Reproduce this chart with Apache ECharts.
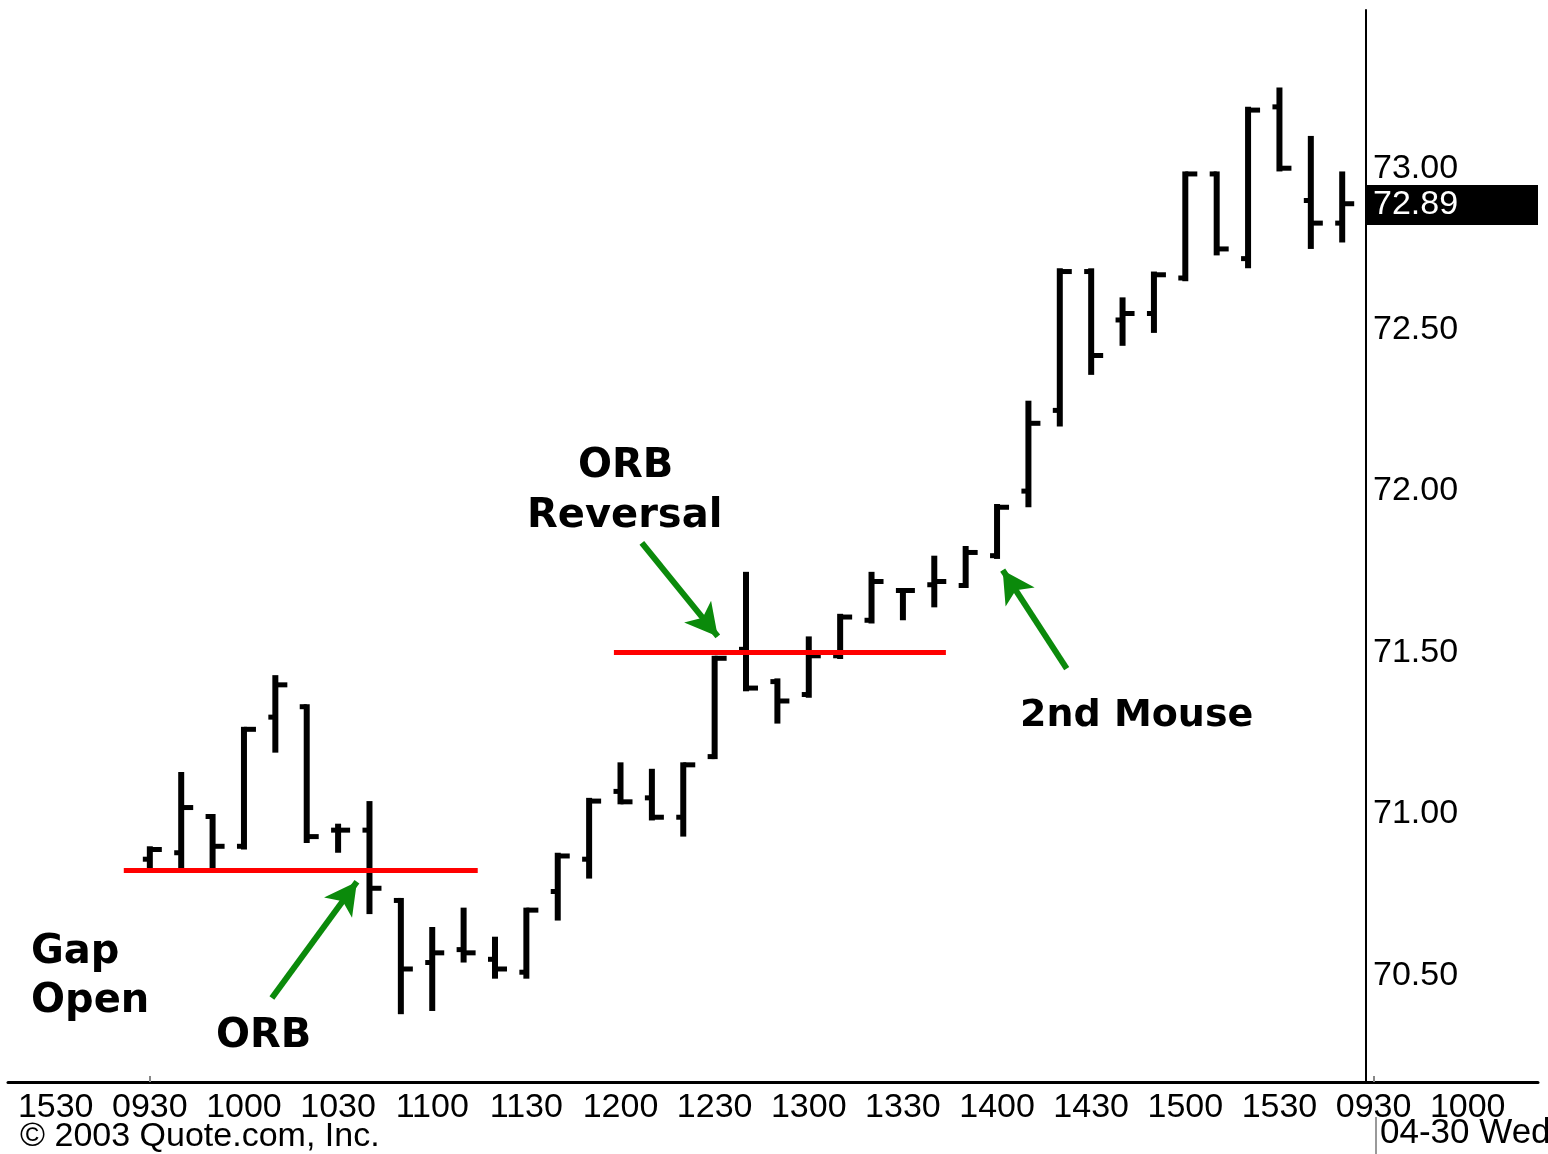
<!DOCTYPE html>
<html>
<head>
<meta charset="utf-8">
<title>ORB intraday chart</title>
<script src="https://cdn.jsdelivr.net/npm/echarts@6/dist/echarts.min.js"></script>
<style>
  html, body { margin: 0; padding: 0; background: #fff; }
  #chart { width: 1548px; height: 1154px; }
</style>
</head>
<body>
<div id="chart"></div>
<script>
// time axis labels, one every 3 bars (10 minute bars), starting at the previous day's 1530 bar
var tickLabels = ['1530', '0930', '1000', '1030', '1100', '1130', '1200', '1230',
                  '1300', '1330', '1400', '1430', '1500', '1530', '0930', '1000'];
var firstBar = 3; // 0930 bar slot
var dayBreaks = [3, 42];

var opens  = [70.86, 70.88, 71.00, 70.90, 71.30, 71.34, 70.95, 70.95, 70.74, 70.54,
              70.58, 70.55, 70.51, 70.76, 70.86, 71.07, 71.05, 70.99, 71.17, 71.51,
              71.41, 71.37, 71.49, 71.60, 71.70, 71.71, 71.70, 71.80, 72.00, 72.25,
              72.68, 72.53, 72.55, 72.66, 72.99, 72.72, 73.19, 72.90, 72.83];
var highs  = [70.90, 71.13, 71.00, 71.27, 71.43, 71.34, 70.97, 71.04, 70.74, 70.65,
              70.71, 70.62, 70.71, 70.88, 71.05, 71.16, 71.14, 71.16, 71.49, 71.75,
              71.42, 71.55, 71.62, 71.75, 71.70, 71.80, 71.83, 71.96, 72.28, 72.69,
              72.69, 72.60, 72.68, 72.99, 72.99, 73.19, 73.25, 73.10, 72.99];
var lows   = [70.83, 70.83, 70.83, 70.89, 71.19, 70.91, 70.88, 70.69, 70.38, 70.39,
              70.54, 70.49, 70.49, 70.67, 70.80, 71.03, 70.98, 70.93, 71.17, 71.38,
              71.28, 71.36, 71.48, 71.59, 71.60, 71.64, 71.70, 71.79, 71.95, 72.20,
              72.36, 72.45, 72.49, 72.65, 72.73, 72.69, 72.99, 72.75, 72.77];
var closes = [70.89, 71.02, 70.90, 71.27, 71.40, 70.93, 70.95, 70.77, 70.52, 70.57,
              70.57, 70.52, 70.71, 70.87, 71.04, 71.03, 70.99, 71.16, 71.49, 71.39,
              71.35, 71.49, 71.61, 71.72, 71.70, 71.72, 71.81, 71.95, 72.21, 72.68,
              72.42, 72.55, 72.67, 72.99, 72.75, 73.18, 73.00, 72.83, 72.89];

var priceTicks = [70.5, 71.0, 71.5, 72.0, 72.5, 73.0];

// opening range levels (price, first / last bar slot covered)
var levels = [
  { price: 70.825, from: 2.17, to: 13.45 },
  { price: 71.50, from: 17.79, to: 28.37 }
];
// annotation arrows, [slot, price] tail -> head
var arrows = [
  { from: [6.89, 70.43], to: [9.6, 70.79] },
  { from: [18.68, 71.84], to: [21.1, 71.55] },
  { from: [32.22, 71.45], to: [30.18, 71.755] }
];

var lastClose = closes[closes.length - 1];
var bars = opens.map(function (o, i) {
  return [firstBar + i, o, highs[i], lows[i], closes[i]];
});

var axisFont = 'Liberation Sans';

function renderOhlc(params, api) {
  var x = api.value(0);
  var o = api.coord([x, api.value(1)]);
  var h = api.coord([x, api.value(2)]);
  var l = api.coord([x, api.value(3)]);
  var c = api.coord([x, api.value(4)]);
  var bw = 6, th = 5;
  function tickY(p) {
    return Math.min(Math.max(p[1] - th / 2, h[1]), l[1] - th);
  }
  return {
    type: 'group',
    children: [
      { type: 'rect', shape: { x: h[0] - bw / 2, y: h[1], width: bw, height: l[1] - h[1] }, style: { fill: '#000' } },
      { type: 'rect', shape: { x: o[0] - bw / 2 - 4, y: tickY(o), width: 4 + bw / 2, height: th }, style: { fill: '#000' } },
      { type: 'rect', shape: { x: c[0], y: tickY(c), width: bw / 2 + 9, height: th }, style: { fill: '#000' } }
    ]
  };
}

function note(text, x, y, size) {
  return {
    type: 'text', x: x, y: y,
    style: { text: text, font: 'bold ' + (size || 40) + 'px "DejaVu Sans"', fill: '#000', verticalAlign: 'middle' }
  };
}

var chart = echarts.init(document.getElementById('chart'));
chart.setOption({
  animation: false,
  backgroundColor: '#fff',
  grid: { left: 8, right: 10, top: 10, bottom: 72, containLabel: false, outerBoundsMode: 'none' },
  xAxis: {
    type: 'value',
    min: -1.52,
    max: 47.24,
    splitLine: { show: false },
    axisLine: { show: true, onZero: false, lineStyle: { color: '#000', width: 3 } },
    axisTick: { show: true, inside: true, length: 6, customValues: dayBreaks, lineStyle: { color: '#888', width: 2 } },
    axisLabel: {
      customValues: tickLabels.map(function (t, i) { return i * 3; }),
      formatter: function (v) { return tickLabels[Math.round(v / 3)]; },
      color: '#000', fontFamily: axisFont, fontSize: 34, lineHeight: 34, margin: 9
    }
  },
  yAxis: {
    type: 'value',
    position: 'right',
    offset: -172,
    min: 70.17,
    max: 73.49,
    splitLine: { show: false },
    axisLine: { show: true, onZero: false, lineStyle: { color: '#000', width: 2 } },
    axisTick: { show: false },
    axisLabel: {
      customValues: priceTicks,
      formatter: function (v) { return v.toFixed(2); },
      color: '#000', fontFamily: axisFont, fontSize: 34, margin: 7
    }
  },
  series: [
    {
      type: 'custom',
      renderItem: renderOhlc,
      encode: { x: 0, y: [1, 2, 3, 4] },
      data: bars,
      z: 3,
      markLine: {
        silent: true,
        symbol: 'none',
        label: { show: false },
        lineStyle: { color: '#ff0000', width: 5, type: 'solid' },
        data: levels.map(function (lv) {
          return [{ coord: [lv.from, lv.price] }, { coord: [lv.to, lv.price] }];
        })
      },
      markArea: {
        silent: true,
        itemStyle: { color: '#000' },
        label: {
          show: true, position: 'insideLeft', distance: 7,
          color: '#fff', fontFamily: axisFont, fontSize: 34,
          formatter: lastClose.toFixed(2)
        },
        data: [[{ xAxis: 41.76, yAxis: lastClose + 0.058 }, { xAxis: 47.24, yAxis: lastClose - 0.066 }]]
      }
    },
    {
      type: 'line',
      data: [],
      markLine: {
        silent: true,
        symbol: ['none', 'arrow'],
        symbolSize: [26, 32],
        label: { show: false },
        lineStyle: { color: '#0b8a0b', width: 6, type: 'solid' },
        data: arrows.map(function (a) {
          return [{ coord: a.from }, { coord: a.to }];
        })
      }
    }
  ],
  graphic: [
    { type: 'text', x: 20, y: 1137, style: { text: '\u00a9 2003 Quote.com, Inc.', font: '34px "Liberation Sans"', fill: '#000', verticalAlign: 'middle' } },
    { type: 'line', shape: { x1: 1376, y1: 1117, x2: 1376, y2: 1154 }, style: { stroke: '#999', lineWidth: 2 } },
    { type: 'text', x: 1380, y: 1133, style: { text: '04-30 Wed', font: '35px "Liberation Sans"', fill: '#000', verticalAlign: 'middle' } },
    note('Gap', 31, 953),
    note('Open', 31, 1002),
    note('ORB', 216, 1037),
    note('ORB', 578, 467),
    note('Reversal', 527, 517),
    note('2nd Mouse', 1020, 716, 38)
  ]
});
</script>
</body>
</html>
